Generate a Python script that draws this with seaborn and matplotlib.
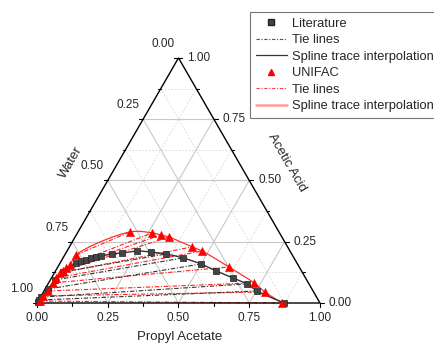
import numpy as np
import pandas as pd
import matplotlib
matplotlib.use("Agg")
import matplotlib.pyplot as plt
import seaborn as sns
from matplotlib.lines import Line2D

# ---------------- data (mole fractions: Propyl Acetate, Acetic Acid; Water = 1 - PA - AA)
lit_pa = [0.001, 0.002, 0.003, 0.010, 0.017, 0.029, 0.056, 0.070, 0.085, 0.099, 0.114, 0.130,
          0.165, 0.198, 0.247, 0.299, 0.356, 0.424, 0.500, 0.567, 0.642, 0.703, 0.753, 0.873]
lit_aa = [0.005, 0.012, 0.024, 0.057, 0.094, 0.127, 0.163, 0.171, 0.176, 0.184, 0.188, 0.192,
          0.200, 0.204, 0.212, 0.208, 0.200, 0.184, 0.159, 0.131, 0.102, 0.078, 0.049, 0.000]

lit_tie_aq_pa = [0.002, 0.003, 0.010, 0.017, 0.029]
lit_tie_aq_aa = [0.012, 0.024, 0.057, 0.094, 0.127]
lit_tie_org_pa = [0.753, 0.703, 0.500, 0.424, 0.356]
lit_tie_org_aa = [0.049, 0.078, 0.159, 0.184, 0.200]

uni_aq_pa = [0.007, 0.007, 0.015, 0.016, 0.016, 0.020, 0.027, 0.031, 0.039, 0.040]
uni_aq_aa = [0.008, 0.029, 0.049, 0.082, 0.102, 0.122, 0.131, 0.143, 0.155, 0.196]
uni_org_pa = [0.866, 0.783, 0.726, 0.605, 0.477, 0.433, 0.332, 0.299, 0.264, 0.184]
uni_org_aa = [0.000, 0.045, 0.082, 0.147, 0.212, 0.229, 0.269, 0.278, 0.286, 0.290]

tick_vals = [0.0, 0.25, 0.5, 0.75, 1.0]
tick_labels = ["0.00", "0.25", "0.50", "0.75", "1.00"]
minor_vals = [0.125, 0.375, 0.625, 0.875]

S3 = np.sqrt(3) / 2


def tern(pa, aa):
    pa = np.asarray(pa, float)
    aa = np.asarray(aa, float)
    return pa + aa / 2.0, aa * S3


def spline(x, y, n=24):
    pts = np.column_stack([x, y])
    P = np.vstack([2 * pts[0] - pts[1], pts, 2 * pts[-1] - pts[-2]])
    out = []
    for i in range(1, len(P) - 2):
        p0, p1, p2, p3 = P[i - 1], P[i], P[i + 1], P[i + 2]
        t0 = 0.0
        t1 = t0 + max(np.linalg.norm(p1 - p0), 1e-6) ** 0.5
        t2 = t1 + max(np.linalg.norm(p2 - p1), 1e-6) ** 0.5
        t3 = t2 + max(np.linalg.norm(p3 - p2), 1e-6) ** 0.5
        t = np.linspace(t1, t2, n)[:, None]
        A1 = (t1 - t) / (t1 - t0) * p0 + (t - t0) / (t1 - t0) * p1
        A2 = (t2 - t) / (t2 - t1) * p1 + (t - t1) / (t2 - t1) * p2
        A3 = (t3 - t) / (t3 - t2) * p2 + (t - t2) / (t3 - t2) * p3
        B1 = (t2 - t) / (t2 - t0) * A1 + (t - t0) / (t2 - t0) * A2
        B2 = (t3 - t) / (t3 - t1) * A2 + (t - t1) / (t3 - t1) * A3
        C = (t2 - t) / (t2 - t1) * B1 + (t - t1) / (t2 - t1) * B2
        out.append(C if i == 1 else C[1:])
    c = np.vstack(out)
    return c[:, 0], c[:, 1]


sns.set_style("white")
plt.rcParams['font.family'] = ['Liberation Sans', 'DejaVu Sans']

W, H = 435, 344
fig = plt.figure(figsize=(W / 100, H / 100), dpi=100)
ax = fig.add_axes([0, 0, 1, 1])
PX = 1 / 283.0
x0, y0 = 37, 303
ax.set_xlim(-x0 * PX, (W - x0) * PX)
ax.set_ylim(-(H - y0) * PX, y0 * PX)
ax.axis('off')

# grid
for t in minor_vals + [0.25, 0.5, 0.75]:
    major = t in (0.25, 0.5, 0.75)
    kw = dict(color='#c8c8c8', lw=0.8, zorder=1) if major else \
        dict(color='#d6d6d6', lw=0.6, ls=(0, (2, 2)), zorder=1)
    # constant acetic acid
    ax.plot([t / 2, 1 - t / 2], [S3 * t, S3 * t], **kw)
    # constant propyl acetate
    ax.plot([t, t + (1 - t) / 2], [0, (1 - t) * S3], **kw)
    # constant water
    ax.plot([(1 - t) / 2, 1 - t], [(1 - t) * S3, 0], **kw)

# triangle frame
ax.plot([0, 1, 0.5, 0], [0, 0, S3, 0], color='black', lw=1.0, zorder=5,
        solid_joinstyle='miter')

# ticks & labels
fs_tick = 8.5
for t in tick_vals + minor_vals:
    L = (4 if t in tick_vals else 2.5) * PX
    # bottom (Propyl Acetate)
    ax.plot([t, t], [0, -L], color='black', lw=0.8, zorder=5)
    # left (Water): W=t -> PA=0, AA=1-t
    lx, ly = (1 - t) / 2, (1 - t) * S3
    ax.plot([lx, lx - L], [ly, ly], color='black', lw=0.8, zorder=5)
    # right (Acetic acid): AA=t
    rx, ry = 1 - t / 2, t * S3
    ax.plot([rx, rx + L], [ry, ry], color='black', lw=0.8, zorder=5)

for t, lab in zip(tick_vals, tick_labels):
    ax.text(t, -15 * PX, lab, ha='center', va='center', fontsize=fs_tick)
    lx, ly = (1 - t) / 2, (1 - t) * S3
    ax.text(lx - 4 * PX, ly + 14 * PX, lab, ha='right', va='center', fontsize=fs_tick)
    rx, ry = 1 - t / 2, t * S3
    ax.text(rx + 9 * PX, ry, lab, ha='left', va='center', fontsize=fs_tick)

ax.text(0.5035, -0.1201, "Propyl Acetate", ha='center', va='center', fontsize=9.5)
ax.text(0.1201, 0.4982, "Water", ha='center', va='center', fontsize=9.5, rotation=60)
ax.text(0.8834, 0.4947, "Acetic Acid", ha='center', va='center', fontsize=9.5, rotation=-60)

# UNIFAC tie lines
for apa, aaa, opa, oaa in zip(uni_aq_pa, uni_aq_aa, uni_org_pa, uni_org_aa):
    xs, ys = tern([apa, opa], [aaa, oaa])
    ax.plot(xs, ys, color='#ff2020', lw=0.8, ls=(0, (4, 1.5, 1, 1.5)), zorder=3)

# literature tie lines
for apa, aaa, opa, oaa in zip(lit_tie_aq_pa, lit_tie_aq_aa, lit_tie_org_pa, lit_tie_org_aa):
    xs, ys = tern([apa, opa], [aaa, oaa])
    ax.plot(xs, ys, color='#333333', lw=0.8, ls=(0, (4, 1.5, 1, 1.5)), zorder=3)

# UNIFAC spline
u_pa = uni_aq_pa + uni_org_pa[::-1]
u_aa = uni_aq_aa + uni_org_aa[::-1]
ux, uy = tern(u_pa, u_aa)
sx, sy = spline(ux, uy)
ax.plot(sx, sy, color='#ff3030', lw=0.9, zorder=4)

# literature spline
lx_, ly_ = tern(lit_pa, lit_aa)
sx, sy = spline(lx_, ly_)
ax.plot(sx, sy, color='#333333', lw=1.0, zorder=4)

# markers
df_lit = pd.DataFrame({'x': lx_, 'y': ly_})
df_uni = pd.DataFrame({'x': ux, 'y': uy})
sns.scatterplot(data=df_lit, x='x', y='y', marker='s', s=24, color='#444444',
                edgecolor='#222222', linewidth=0.5, ax=ax, zorder=6, legend=False)
sns.scatterplot(data=df_uni, x='x', y='y', marker='^', s=36, color='#ff0000',
                edgecolor='#ff0000', linewidth=0.3, ax=ax, zorder=7, legend=False)
ax.set_xlim(-x0 * PX, (W - x0) * PX)
ax.set_ylim(-(H - y0) * PX, y0 * PX)
ax.axis('off')

handles = [
    Line2D([], [], marker='s', ls='none', color='#444444', mec='#222222', ms=4),
    Line2D([], [], color='#555555', lw=0.8, ls=(0, (3, 1.5, 1, 1.5))),
    Line2D([], [], color='#333333', lw=0.9),
    Line2D([], [], marker='^', ls='none', color='#ff0000', ms=4.5),
    Line2D([], [], color='#ff4040', lw=0.8, ls=(0, (3, 1.5, 1, 1.5))),
    Line2D([], [], color='#ff9a9a', lw=1.8),
]
labels = ["Literature", "Tie lines", "Spline trace interpolation",
          "UNIFAC", "Tie lines", "Spline trace interpolation"]
leg = ax.legend(handles, labels, loc='upper left', bbox_to_anchor=(250 / W, 1 - 12 / H),
                bbox_transform=fig.transFigure, borderaxespad=0, frameon=True,
                fancybox=False, edgecolor='#555555', fontsize=9.3, handlelength=2.4,
                handletextpad=0.4, labelspacing=0.34, borderpad=0.45)
leg.get_frame().set_linewidth(0.8)

fig.savefig("out.png", dpi=100)
